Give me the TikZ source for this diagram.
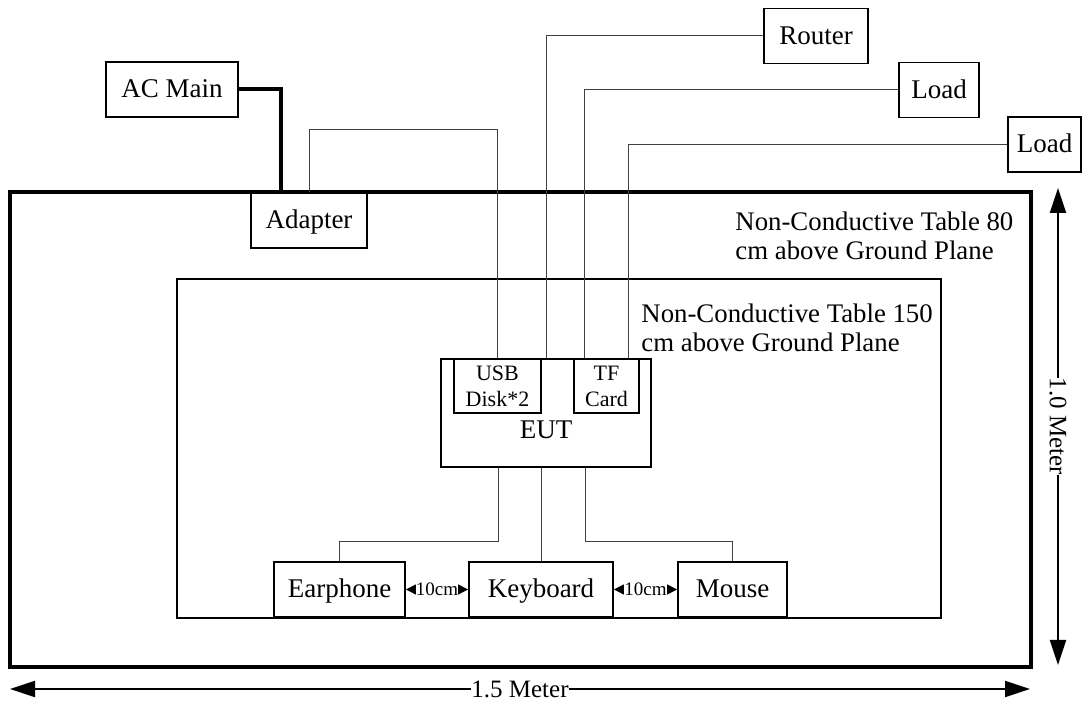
\documentclass[tikz,border=0pt]{standalone}
\usepackage{fontspec}
\setmainfont{Liberation Serif}
\usetikzlibrary{arrows.meta}

\begin{document}
\begin{tikzpicture}[x=0.5pt,y=-0.5pt,
  unit/.style={draw,line width=0.9pt,inner sep=0pt,align=center,font=\fontsize{13.5}{16}\selectfont},
  box/.style={unit,text height=10pt,text depth=1.5pt,minimum height=27.5pt},
  port/.style={unit,font=\fontsize{11}{13}\selectfont,minimum height=27pt},
  cable/.style={line width=0.5pt,draw=black!75},
  tabletext/.style={anchor=north west,align=left,inner sep=0pt,font=\fontsize{13.4}{14.5}\selectfont},
  dim/.style={line width=1pt,{Triangle[length=12.5pt,width=8pt]}-{Triangle[length=12.5pt,width=8pt]}},
  gap/.style={line width=0.5pt,{Triangle[length=5pt,width=5pt]}-{Triangle[length=5pt,width=5pt]}}]
\useasboundingbox (0,0) rectangle (1083,704);

% tables
\draw[line width=2pt] (10,192) rectangle (1031,667);
\draw[line width=1pt] (177,279) rectangle (941,618);
\node[tabletext] (table80) at (735,212) {Non-Conductive Table 80\\cm above Ground Plane};
\node[tabletext] (table150) at (641,304) {Non-Conductive Table 150\\cm above Ground Plane};

% equipment
\node[box,minimum width=66pt] (acmain) at (172,89.5) {AC Main};
\node[box,fill=white,minimum width=58pt] (adapter) at (309,220.5) {Adapter};
\node[box,minimum width=52pt] (router) at (816,36) {Router};
\node[box,minimum width=40pt] (load1) at (939,90) {Load};
\node[box,minimum width=36.5pt] (load2) at (1044.5,144.5) {Load};
\node[unit,minimum width=105pt,minimum height=54pt] (eut) at (546,413) {};
\node[font=\fontsize{13.5}{16}\selectfont,inner sep=0pt] (eutlabel) at (546,430) {EUT};
\node[port,minimum width=43.5pt] (usb) at (497.5,386) {USB\\Disk*2};
\node[port,minimum width=32.5pt] (tf) at (606.5,386) {TF\\Card};
\node[box,minimum width=65.5pt] (earphone) at (339.5,589.5) {Earphone};
\node[box,minimum width=72pt] (keyboard) at (541,589.5) {Keyboard};
\node[box,minimum width=54.5pt] (mouse) at (732.5,589.5) {Mouse};

% cables
\draw[line width=2pt] (acmain.east) -| ([xshift=-14pt]adapter.north);
\draw[cable] (adapter.north) -- ++(0,-63) -| (usb.north);
\draw[cable] (eut.north) |- (router.west);
\draw[cable] ([xshift=-11pt]tf.north) |- (load1.west);
\draw[cable] ([xshift=11pt]tf.north) |- (load2.west);
\draw[cable] ([xshift=-24pt]eut.south) -- ++(0,74) -| (earphone.north);
\draw[cable] (keyboard.north) -- (keyboard.north |- eut.south);
\draw[cable] ([xshift=19.5pt]eut.south) -- ++(0,74) -| (mouse.north);

% spacing
\draw[gap] (earphone.east) -- node[fill=white,inner sep=0pt,font=\fontsize{9.5}{11}\selectfont] (gapleft) {10cm} (keyboard.west);
\draw[gap] (keyboard.east) -- node[fill=white,inner sep=0pt,font=\fontsize{9.5}{11}\selectfont] (gapright) {10cm} (mouse.west);

% dimensions
\coordinate (wl) at (10,689);
\coordinate (wr) at (1030,689);
\coordinate (ht) at (1058,188);
\coordinate (hb) at (1058,665);
\draw[dim] (wl) -- node[fill=white,inner sep=0pt,font=\fontsize{12.5}{15}\selectfont] (width) {1.5 Meter} (wr);
\draw[dim] (ht) -- node[fill=white,inner sep=0pt,rotate=-90,font=\fontsize{12.5}{15}\selectfont] (height) {1.0 Meter} (hb);
\end{tikzpicture}
\end{document}
